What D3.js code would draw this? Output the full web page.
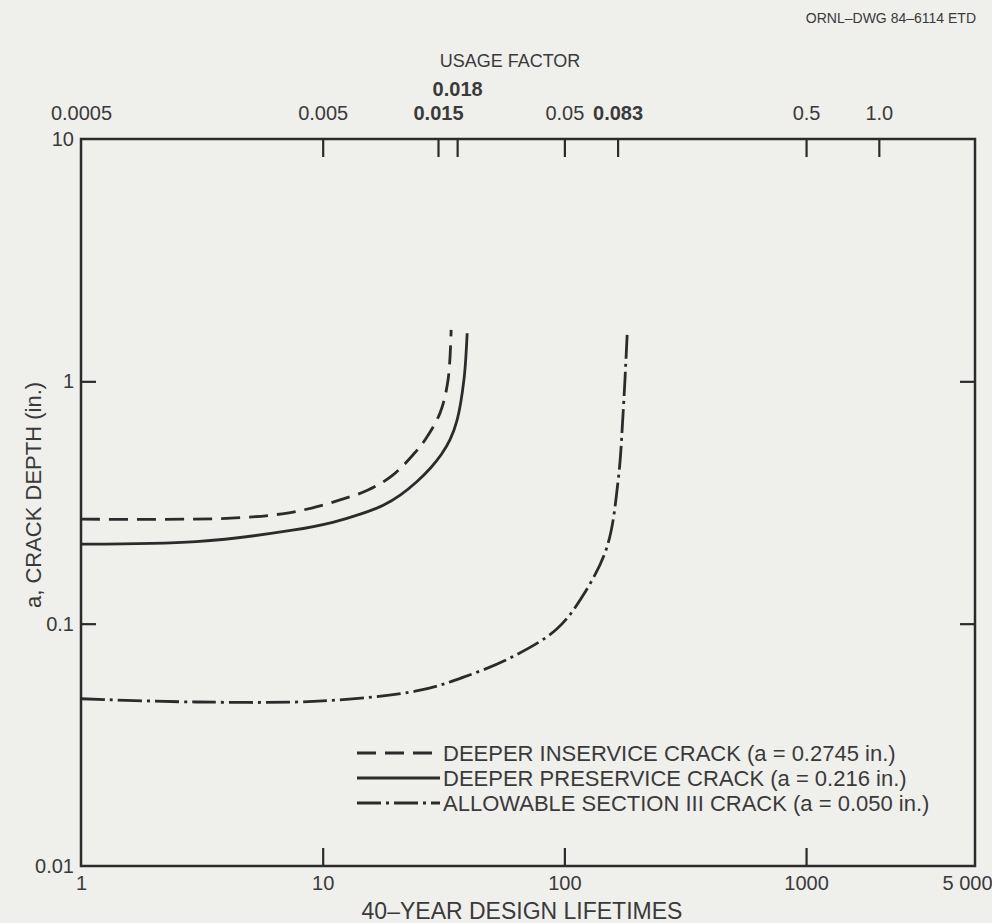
<!DOCTYPE html>
<html><head><meta charset="utf-8">
<script src="https://cdn.jsdelivr.net/npm/d3@7"></script>
<style>
body{margin:0;background:#efefec}
text{font-family:"Liberation Sans",Arial,sans-serif;fill:#3a3a3a}
</style>
</head><body><svg id="c" width="992" height="923"></svg>
<script>
// ---- data ----
const lifetimeTicks = [1, 10, 100, 1000, 5000];
const lifetimeTickLabels = ["1", "10", "100", "1000", "5 000"];
const depthTicks = [0.01, 0.1, 1, 10];
const depthTickLabels = ["0.01", "0.1", "1", "10"];
const usageTicks = [0.0005, 0.005, 0.015, 0.018, 0.05, 0.083, 0.5, 1.0];
const usageTickLabels = ["0.0005", "0.005", "0.015", "0.018", "0.05", "0.083", "0.5", "1.0"];
const usagePerLifetime = 0.0005;

// [40-year design lifetimes, crack depth a (in.)]
const inserviceCrack = [[1,0.27],[4,0.272],[6.8,0.284],[9,0.30],[11.8,0.324],[15.4,0.356],[19.5,0.41],[24,0.506],[26.5,0.573],[30.6,0.741],[33,1.01],[34,1.63]];
const preserviceCrack = [[1,0.213],[3,0.218],[7.5,0.243],[11,0.262],[14.3,0.283],[17.8,0.308],[21,0.34],[24.5,0.385],[28,0.44],[31,0.50],[33.6,0.573],[36,0.693],[38.4,1.014],[39.6,1.58]];
const allowableCrack = [[1,0.049],[3,0.0475],[10,0.048],[25,0.053],[38,0.060],[61,0.073],[93,0.095],[119,0.13],[150,0.207],[167,0.392],[175,0.741],[182,1.58]];

const seriesNames = ["DEEPER INSERVICE CRACK (a = 0.2745 in.)", "DEEPER PRESERVICE CRACK (a = 0.216 in.)", "ALLOWABLE SECTION III CRACK (a = 0.050 in.)"];
const seriesData = [inserviceCrack, preserviceCrack, allowableCrack];
const seriesDash = ["19,9", null, "24,5,3,5"];

// ---- layout ----
const L = 81, R = 975, T = 139, B = 866;
const svg = d3.select("#c");
const ink = "#2b2b2b";

const x = d3.scaleLog().domain([1, 5000]).range([L, R]);
const y = d3.scaleLog().domain([0.01, 10]).range([B, T]);
const xu = d3.scaleLog().domain([1 * usagePerLifetime, 5000 * usagePerLifetime]).range([L, R]);

svg.append("rect").attr("width", 992).attr("height", 923).attr("fill", "#efefec");

function styleAxis(g, hideTickAt) {
  g.select(".domain").remove();
  g.selectAll(".tick line").attr("stroke", ink).attr("stroke-width", 2.2);
  g.selectAll(".tick text").style("font-size", "20px").attr("fill", "#3a3a3a");
  g.selectAll(".tick").filter(d => hideTickAt.includes(d)).select("line").remove();
}

// bottom axis
const gB = svg.append("g").attr("transform", `translate(0,${B})`)
  .call(d3.axisBottom(x).tickValues(lifetimeTicks).tickSize(-18).tickPadding(10)
    .tickFormat((d, i) => lifetimeTickLabels[i]));
styleAxis(gB, [1, 5000]);
gB.selectAll(".tick text").filter(d => d === 5000).attr("dx", -8);

// left axis
const gL = svg.append("g").attr("transform", `translate(${L},0)`)
  .call(d3.axisLeft(y).tickValues(depthTicks).tickSize(-15).tickPadding(7)
    .tickFormat((d, i) => depthTickLabels[i]));
styleAxis(gL, [0.01, 10]);

// right axis
const gR = svg.append("g").attr("transform", `translate(${R},0)`)
  .call(d3.axisRight(y).tickValues([0.1, 1]).tickSize(-15).tickFormat(""));
styleAxis(gR, []);

// top axis (usage factor)
const gT = svg.append("g").attr("transform", `translate(0,${T})`)
  .call(d3.axisTop(xu).tickValues(usageTicks).tickSize(-18).tickPadding(19)
    .tickFormat((d, i) => usageTickLabels[i]));
styleAxis(gT, [0.0005]);
gT.selectAll(".tick text").filter(d => d === 0.018).attr("dy", "-1.2em");
gT.selectAll(".tick text").filter(d => d === 0.015 || d === 0.018 || d === 0.083).style("font-weight", "bold");

// frame
svg.append("rect").attr("x", L).attr("y", T).attr("width", R - L).attr("height", B - T)
  .attr("fill", "none").attr("stroke", ink).attr("stroke-width", 2.5);

// curves
const line = d3.line().x(d => x(d[0])).y(d => y(d[1])).curve(d3.curveCatmullRom.alpha(0.5));
seriesData.forEach((s, i) => {
  svg.append("path").datum(s).attr("d", line).attr("fill", "none")
    .attr("stroke", ink).attr("stroke-width", 2.8)
    .attr("stroke-dasharray", seriesDash[i]);
});

// legend
const legY = [753, 778, 803];
seriesNames.forEach((n, i) => {
  svg.append("line").attr("x1", 357).attr("x2", 440).attr("y1", legY[i]).attr("y2", legY[i])
    .attr("stroke", ink).attr("stroke-width", 2.8).attr("stroke-dasharray", seriesDash[i]);
  svg.append("text").attr("x", 443).attr("y", legY[i]).attr("dy", "0.36em")
    .style("font-size", "22px").text(n);
});

// titles
svg.append("text").attr("x", 510).attr("y", 67).attr("text-anchor", "middle").style("font-size", "18px").text("USAGE FACTOR");
svg.append("text").attr("x", 522).attr("y", 919).attr("text-anchor", "middle").style("font-size", "23px").text("40–YEAR DESIGN LIFETIMES");
svg.append("text").attr("transform", "translate(41,495) rotate(-90)").attr("text-anchor", "middle").style("font-size", "22px").text("a, CRACK DEPTH (in.)");
svg.append("text").attr("x", 976).attr("y", 23).attr("text-anchor", "end").style("font-size", "14px").text("ORNL–DWG 84–6114 ETD");
</script></body></html>
